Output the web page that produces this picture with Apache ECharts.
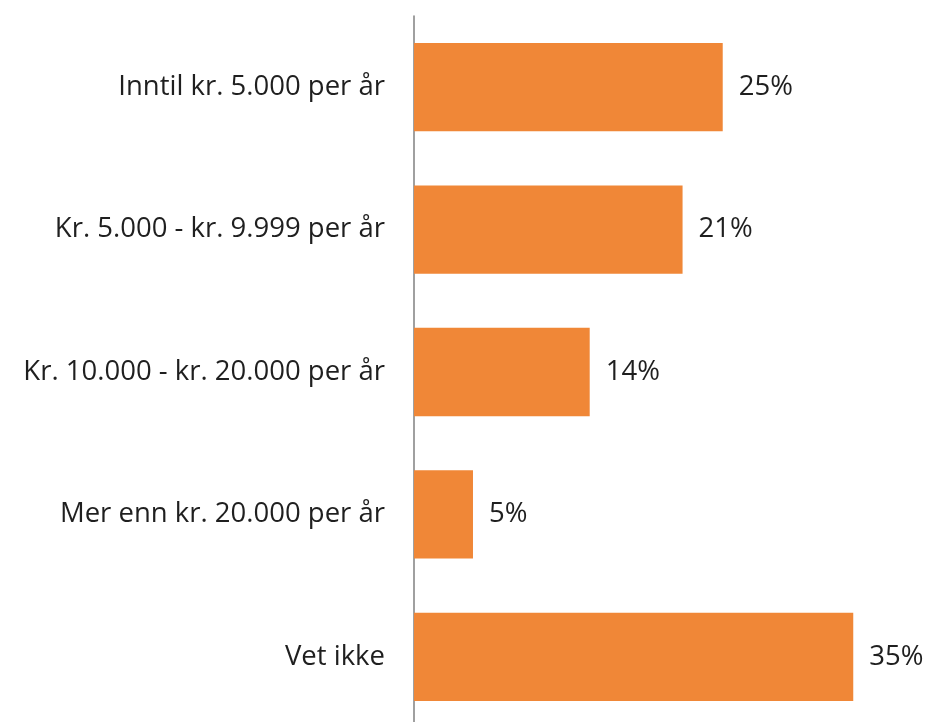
<!DOCTYPE html>
<html>
<head>
<meta charset="utf-8">
<script src="https://cdn.jsdelivr.net/npm/echarts@6/dist/echarts.min.js"></script>
<style>
  html, body { margin: 0; padding: 0; background: #fff; overflow: hidden; }
  #chart { width: 929px; height: 730px; }
</style>
</head>
<body>
<div id="chart"></div>
<script>
var categories = ['Inntil kr. 5.000 per år', 'Kr. 5.000 - kr. 9.999 per år', 'Kr. 10.000 - kr. 20.000 per år', 'Mer enn kr. 20.000 per år', 'Vet ikke'];
var values = [24.6, 21.4, 14.0, 4.7, 35.0];

var myChart = echarts.init(document.getElementById('chart'));
var option = {
    animation: false,
    grid: {
        left: 414,
        right: 13,
        top: 16,
        height: 712
    },
    xAxis: {
        type: 'value',
        min: 0,
        max: 40,
        show: false
    },
    yAxis: {
        type: 'category',
        inverse: true,
        data: categories,
        axisLine: { show: true, lineStyle: { color: '#808080', width: 1.5 } },
        axisTick: { show: false },
        axisLabel: {
            margin: 29,
            fontFamily: 'Open Sans',
            fontSize: 27.5,
            color: '#1f1f1f'
        }
    },
    series: [
        {
            type: 'bar',
            data: values,
            barWidth: '62%',
            itemStyle: { color: '#F08737' },
            label: {
                show: true,
                position: 'right',
                distance: 16,
                fontFamily: 'Open Sans',
                fontSize: 27.5,
                color: '#1f1f1f',
                formatter: function (p) { return Math.round(p.value) + '%'; }
            }
        }
    ]
};
myChart.setOption(option);
</script>
</body>
</html>
